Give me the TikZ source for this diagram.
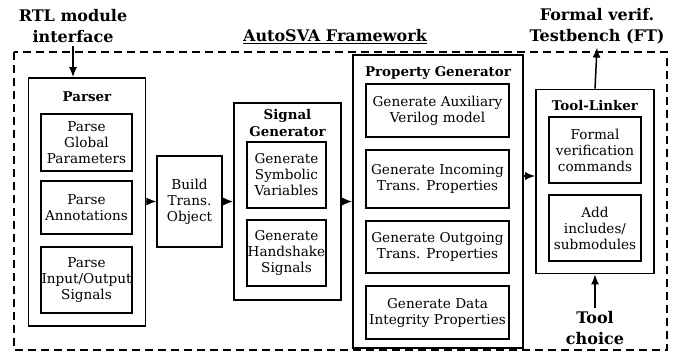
\documentclass[tikz,border=0pt]{standalone}
\usepackage{fontspec}
\setmainfont{DejaVu Serif}
\usepackage{tikz}
\usetikzlibrary{shapes, arrows.meta, positioning}

\begin{document}
\begin{tikzpicture}[x=1pt, y=-1pt,
    outerbox/.style={draw, rectangle, line width=1.8pt, inner sep=0pt},
    innerbox/.style={draw, rectangle, line width=1.2pt, inner sep=0pt, align=center,
        font=\fontsize{13.6}{16}\selectfont},
    boxtitle/.style={align=center, font=\fontsize{13.4}{17}\selectfont\bfseries},
    biglabel/.style={align=center, font=\fontsize{16}{21.5}\selectfont\bfseries},
    arr/.style={line width=1.5pt, -{Latex[length=10pt, width=8pt]}}]
    \useasboundingbox (0,0) rectangle (681,356);
    % framework frame
    \draw[line width=1.8pt, dash pattern=on 8pt off 5pt] (14,52) rectangle (667,350);
    \node[biglabel] (fwtitle) at (335,37) {\underline{AutoSVA Framework}};
    \node[biglabel] (rtl) at (73,26) {RTL module\\interface};
    \node[biglabel] (formal) at (597,26) {Formal verif.\\Testbench (FT)};
    \node[biglabel] (choice) at (595,328) {Tool\\choice};
    % parser
    \node[outerbox, minimum width=117pt, minimum height=248pt] (parser) at (87,202) {};
    \node[boxtitle] (parsertitle) at (87,97) {Parser};
    \node[innerbox, minimum width=91pt, minimum height=57pt] (pglobal) at (86.5,142.5) {Parse\\Global\\Parameters};
    \node[innerbox, minimum width=91pt, minimum height=53pt] (pannot) at (86.5,207.5) {Parse\\Annotations};
    \node[innerbox, minimum width=91pt, minimum height=66pt] (pio) at (86.5,280) {Parse\\Input/Output\\Signals};
    % build
    \node[innerbox, minimum width=65pt, minimum height=91pt] (build) at (189.5,201.5) {Build\\Trans.\\Object};
    % signal generator
    \node[outerbox, minimum width=107pt, minimum height=197pt] (siggen) at (287.5,201.5) {};
    \node[boxtitle] (sigtitle) at (287.5,123) {Signal\\Generator};
    \node[innerbox, minimum width=79pt, minimum height=66pt] (symvar) at (286.5,175) {Generate\\Symbolic\\Variables};
    \node[innerbox, minimum width=79pt, minimum height=66pt] (hshake) at (286.5,253) {Generate\\Handshake\\Signals};
    % property generator
    \node[outerbox, minimum width=170pt, minimum height=293pt] (propgen) at (438,201.5) {};
    \node[boxtitle] (proptitle) at (438,73) {Property Generator};
    \node[innerbox, minimum width=143pt, minimum height=53pt] (auxmodel) at (437.5,110.5) {Generate Auxiliary\\Verilog model};
    \node[innerbox, minimum width=143pt, minimum height=58pt] (incoming) at (437.5,179) {Generate Incoming\\Trans. Properties};
    \node[innerbox, minimum width=143pt, minimum height=52pt] (outgoing) at (437.5,247) {Generate Outgoing\\Trans. Properties};
    \node[innerbox, minimum width=143pt, minimum height=53pt] (integrity) at (437.5,312.5) {Generate Data\\Integrity Properties};
    % tool linker
    \node[outerbox, minimum width=118pt, minimum height=184pt] (toollink) at (595,181.5) {};
    \node[boxtitle] (tooltitle) at (595,106) {Tool-Linker};
    \node[innerbox, minimum width=92pt, minimum height=66pt] (fvcmd) at (595,150) {Formal\\verification\\commands};
    \node[innerbox, minimum width=92pt, minimum height=66pt] (incl) at (595,228) {Add\\includes/\\submodules};
    % arrows
    \draw[arr] (rtl.south) -- (rtl.south |- parser.north);
    \draw[arr] (parser.east |- build.west) -- (build.west);
    \draw[arr] (build.east) -- (build.east -| siggen.west);
    \draw[arr] (siggen.east) -- (siggen.east -| propgen.west);
    \draw[arr] (propgen.east |- 0,176) -- (toollink.west |- 0,176);
    \draw[arr] (toollink.north) -- (formal.south);
    \draw[arr] (choice.north) -- (toollink.south);
\end{tikzpicture}
\end{document}
